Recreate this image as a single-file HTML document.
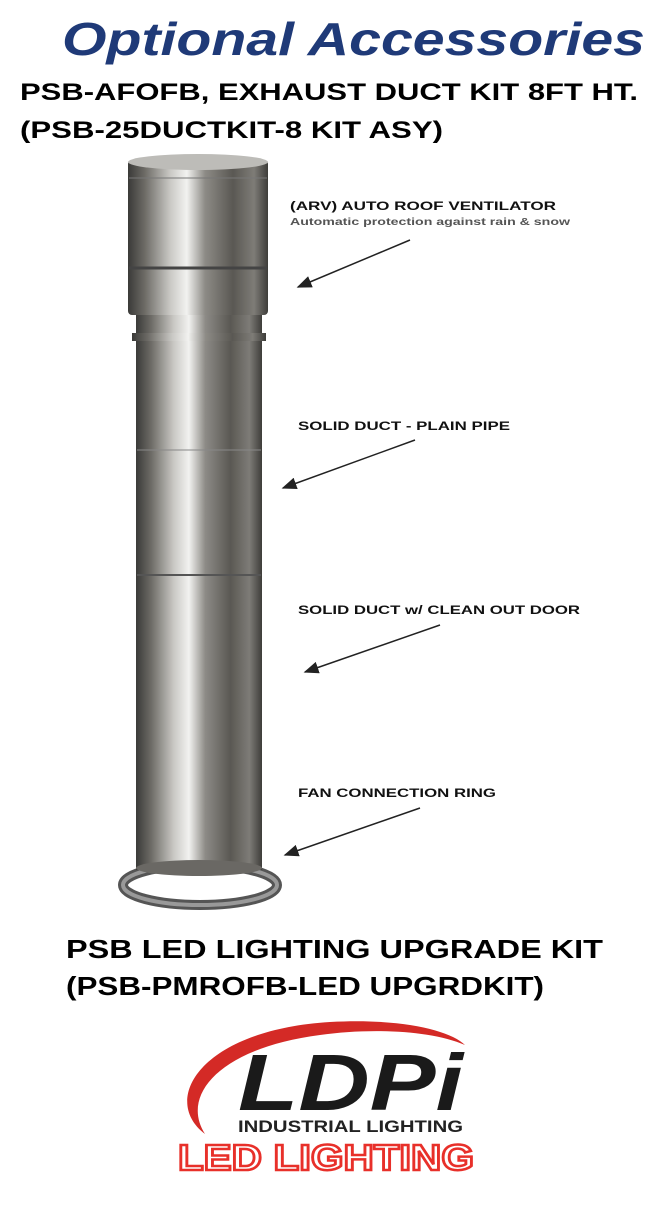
<!DOCTYPE html>
<html><head><style>
body{margin:0;background:#fff;width:658px;height:1200px;overflow:hidden;font-family:"Liberation Sans",sans-serif}
</style></head><body>
<svg width="658" height="1200" xmlns="http://www.w3.org/2000/svg">
<defs>
<linearGradient id="m" x1="0" x2="1">
<stop offset="0" stop-color="#3a3a38"/><stop offset="0.12" stop-color="#6d6b66"/>
<stop offset="0.3" stop-color="#c9c8c4"/><stop offset="0.42" stop-color="#f2f2f0"/>
<stop offset="0.55" stop-color="#8d8b86"/><stop offset="0.75" stop-color="#5a5853"/>
<stop offset="0.9" stop-color="#7e7c77"/><stop offset="1" stop-color="#3e3d3a"/>
</linearGradient>
<marker id="a" markerWidth="10" markerHeight="8" refX="9" refY="4" orient="auto"><path d="M0,0 L10,4 L0,8 z" fill="#222"/></marker>
</defs>
<g lengthAdjust="spacingAndGlyphs">
<text x="62" y="55" font-size="46" font-weight="bold" font-style="italic" fill="#1f3a78" textLength="583" lengthAdjust="spacingAndGlyphs">Optional Accessories</text>
<text x="20" y="100" font-size="24" font-weight="bold" fill="#000" textLength="618" lengthAdjust="spacingAndGlyphs">PSB-AFOFB, EXHAUST DUCT KIT 8FT HT.</text>
<text x="20" y="138" font-size="24" font-weight="bold" fill="#000" textLength="423" lengthAdjust="spacingAndGlyphs">(PSB-25DUCTKIT-8 KIT ASY)</text>
</g>
<!-- ring -->
<ellipse cx="200" cy="885" rx="77" ry="20" fill="none" stroke="#555" stroke-width="10"/>
<ellipse cx="200" cy="885" rx="77" ry="20" fill="none" stroke="#999" stroke-width="4"/>
<!-- pipe -->
<rect x="136" y="310" width="126" height="560" fill="url(#m)"/>
<ellipse cx="199" cy="868" rx="63" ry="8" fill="#6a6864"/>
<rect x="132" y="333" width="134" height="8" fill="url(#m)"/>
<line x1="137" y1="575" x2="261" y2="575" stroke="#555" stroke-width="2"/>
<line x1="137" y1="450" x2="261" y2="450" stroke="#888" stroke-width="1"/>
<rect x="128" y="160" width="140" height="155" rx="4" fill="url(#m)"/>
<ellipse cx="198" cy="162" rx="70" ry="8" fill="#bdbcb8"/>
<line x1="129" y1="268" x2="267" y2="268" stroke="#444" stroke-width="3"/>
<line x1="129" y1="178" x2="267" y2="178" stroke="#777" stroke-width="1"/>
<g font-weight="bold" fill="#111">
<text x="290" y="210" font-size="12" textLength="266" lengthAdjust="spacingAndGlyphs">(ARV) AUTO ROOF VENTILATOR</text>
<text x="290" y="225" font-size="10" fill="#555" textLength="280" lengthAdjust="spacingAndGlyphs">Automatic protection against rain &amp; snow</text>
<text x="298" y="430" font-size="12" textLength="212" lengthAdjust="spacingAndGlyphs">SOLID DUCT - PLAIN PIPE</text>
<text x="298" y="614" font-size="12" textLength="282" lengthAdjust="spacingAndGlyphs">SOLID DUCT w/ CLEAN OUT DOOR</text>
<text x="298" y="797" font-size="12" textLength="198" lengthAdjust="spacingAndGlyphs">FAN CONNECTION RING</text>
</g>
<g stroke="#222" stroke-width="1.5" marker-end="url(#a)">
<line x1="410" y1="240" x2="298" y2="287"/>
<line x1="415" y1="440" x2="283" y2="488"/>
<line x1="440" y1="625" x2="305" y2="672"/>
<line x1="420" y1="808" x2="285" y2="855"/>
</g>
<text x="66" y="958" font-size="26" font-weight="bold" fill="#000" textLength="537" lengthAdjust="spacingAndGlyphs">PSB LED LIGHTING UPGRADE KIT</text>
<text x="66" y="995" font-size="26" font-weight="bold" fill="#000" textLength="478" lengthAdjust="spacingAndGlyphs">(PSB-PMROFB-LED UPGRDKIT)</text>
<!-- logo -->
<path d="M205,1134 C160,1100 200,1030 330,1022 C400,1018 450,1030 465,1045 C430,1030 370,1028 320,1035 C220,1048 180,1095 205,1134 z" fill="#d42a26"/>
<text x="238" y="1110" font-size="80" font-weight="bold" font-style="italic" fill="#1a1a1a" textLength="225" lengthAdjust="spacingAndGlyphs">LDPi</text>
<text x="238" y="1132" font-size="17" font-weight="bold" fill="#222" textLength="225" lengthAdjust="spacingAndGlyphs">INDUSTRIAL LIGHTING</text>
<text x="178" y="1170" font-size="36" font-weight="bold" fill="#fff" stroke="#e8302a" stroke-width="2.5" textLength="296" lengthAdjust="spacingAndGlyphs">LED LIGHTING</text>
</svg>
</body></html>
